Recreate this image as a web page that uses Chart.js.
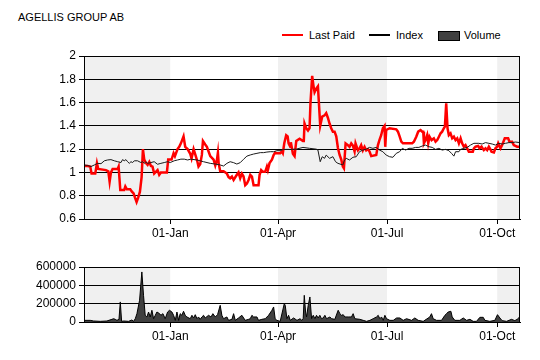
<!DOCTYPE html>
<html>
<head>
<meta charset="utf-8">
<title>AGELLIS GROUP AB</title>
<script src="https://cdn.jsdelivr.net/npm/chart.js@4.4.1/dist/chart.umd.min.js"></script>
<style>
  html, body { margin: 0; padding: 0; background: #fff; }
  #wrap { position: relative; width: 540px; height: 360px; overflow: hidden;
          font-family: 'Liberation Sans', Arial, sans-serif; color: #000; }
  #wrap canvas { position: absolute; left: 0; }
  .title { position: absolute; left: 18px; top: 11px; font-size: 11px; }
  .lg-text { position: absolute; top: 29px; font-size: 11px; }
  .lg-line { position: absolute; height: 2px; top: 34px; width: 21px; }
  .lg-box  { position: absolute; top: 31px; width: 20px; height: 8px; background: #404040; border: 1px solid #000; }
</style>
</head>
<body>
<div id="wrap">
  <div class="title">AGELLIS GROUP AB</div>
  <div class="lg-line" style="left:282px;background:#ff0000"></div>
  <div class="lg-text" style="left:309px">Last Paid</div>
  <div class="lg-line" style="left:369px;background:#000;height:2px"></div>
  <div class="lg-text" style="left:396px">Index</div>
  <div class="lg-box" style="left:438px"></div>
  <div class="lg-text" style="left:464px">Volume</div>
  <canvas id="chart-price" width="540" height="240" style="top:0"></canvas>
  <canvas id="chart-volume" width="540" height="120" style="top:240px"></canvas>
</div>
<script>
(function () {
  // ── Data (x = days relative to 01-Jan) ──────────────────────────────────────
  const X_MIN = -72, X_MAX = 292;
  const tickDays   = [0, 90, 181, 273];
  const tickLabels = ['01-Jan', '01-Apr', '01-Jul', '01-Oct'];
  const shadedBands = [[-72, 0], [90, 181], [273, 292]];
  const priceTicks  = [0.6, 0.8, 1, 1.2, 1.4, 1.6, 1.8, 2];
  const volumeTicks = [0, 200000, 400000, 600000];

  const lastPaid = [
    [-71.8,1.055],[-69,1.055],[-66.8,1.05],[-65.7,0.99],[-62.6,0.99],[-61.2,1.08],[-60.1,1.03],
    [-53.7,1.02],[-51.7,1.01],[-50.6,0.92],[-49.5,1.0],[-48.1,1.03],[-43.9,1.03],[-43.1,1.05],
    [-41.7,0.85],[-38.4,0.85],[-37.5,0.88],[-36.2,0.855],[-33.4,0.855],[-32,0.835],[-30.6,0.82],
    [-29.5,0.785],[-28.1,0.745],[-26.7,0.785],[-25.3,0.835],[-23.9,0.96],[-22.8,1.2],[-21.7,1.11],
    [-20.3,1.08],[-18.9,1.065],[-17.5,1.09],[-16.1,1.055],[-14.8,1.05],[-13.4,0.99],[-12,1.005],
    [-10.6,1.02],[-9.2,0.98],[-7.8,1.0],[-2.8,1.0],[-1.7,1.11],[1.1,1.11],[2.8,1.165],[3.9,1.14],
    [6.1,1.2],[7.5,1.22],[8.9,1.25],[11.1,1.31],[12.5,1.22],[14.5,1.2],[16.7,1.16],[17.8,1.12],
    [19.5,1.2],[21,1.15],[22.5,1.1],[23.6,1.05],[25,1.07],[26.4,1.15],[27.3,1.27],[29.2,1.24],
    [30.6,1.22],[32,1.18],[33.4,1.14],[36.2,1.11],[37.6,1.06],[39,1.11],[39.8,1.17],[40.4,1.08],
    [41.7,1.01],[44.5,1.01],[47.3,0.99],[48.7,0.96],[50,0.95],[51.5,0.965],[52.9,0.935],[55.6,0.98],
    [57,1.0],[58.4,0.95],[59.8,0.99],[61.2,0.965],[62.6,0.89],[64,0.905],[65.4,0.935],[66.8,0.98],
    [68.2,0.965],[69.6,0.89],[73.7,0.89],[74.6,0.98],[75.9,1.02],[77.3,1.005],[79.3,1.005],
    [80.7,1.05],[81.5,1.02],[82.9,1.08],[84.9,1.11],[86.3,1.15],[87.6,1.17],[88.5,1.165],
    [91.8,1.165],[93.2,1.18],[94,1.165],[95.2,1.25],[96.8,1.32],[98,1.31],[98.8,1.25],[100.2,1.22],
    [100.7,1.26],[102.4,1.16],[103.8,1.14],[105.2,1.27],[108,1.29],[110.8,1.27],[111.5,1.27],
    [112.1,1.42],[113.5,1.38],[115,1.36],[116.3,1.38],[117.1,1.6],[118.5,1.83],[119.5,1.75],
    [120.5,1.69],[121.9,1.72],[123.3,1.74],[124.1,1.6],[125.2,1.4],[126.9,1.48],[128.8,1.49],
    [130.2,1.51],[131.6,1.47],[133,1.42],[134.4,1.38],[135.8,1.35],[137.2,1.35],[138.6,1.31],
    [140,1.21],[141.4,1.15],[142.8,1.11],[144.1,1.05],[145,1.035],[146.4,1.25],[148.3,1.235],
    [149.7,1.22],[151.1,1.25],[152.5,1.23],[153.9,1.18],[154.7,1.25],[156.7,1.19],[158,1.205],
    [159.4,1.235],[160.8,1.19],[162.2,1.22],[163.6,1.19],[165,1.2],[166.4,1.18],[167.8,1.14],
    [172,1.15],[173.4,1.235],[174.7,1.28],[176.1,1.32],[177.5,1.38],[178.9,1.4],[179.5,1.22],
    [180.3,1.365],[183.1,1.38],[188.7,1.37],[190.1,1.35],[191.5,1.31],[192.9,1.265],[194.3,1.25],
    [202,1.25],[203.4,1.264],[205.4,1.307],[207,1.35],[209,1.364],[210.4,1.35],[211.2,1.35],
    [211.8,1.25],[213.1,1.278],[214.5,1.321],[215.4,1.25],[216.5,1.307],[218.2,1.278],[220.1,1.293],
    [221.5,1.264],[222.9,1.278],[224.3,1.307],[225.7,1.336],[227,1.35],[228.4,1.379],[229.3,1.393],
    [230.4,1.593],[231.5,1.379],[232.6,1.321],[234,1.336],[235.4,1.293],[236.8,1.307],[238.2,1.278],
    [239.6,1.293],[241,1.25],[242.4,1.293],[243.7,1.25],[245.1,1.221],[246.5,1.235],[247.9,1.207],
    [249.3,1.178],[252.6,1.178],[253.5,1.207],[254.9,1.221],[257.1,1.228],[258.2,1.207],[259.9,1.221],
    [261.8,1.192],[263.2,1.207],[264.6,1.192],[266,1.221],[267.4,1.197],[268.2,1.178],[270.2,1.172],
    [271.5,1.207],[272.9,1.221],[273.8,1.25],[275.7,1.207],[277.1,1.235],[279.3,1.293],[282.1,1.293],
    [283.2,1.264],[285.4,1.264],[286.8,1.235],[289.6,1.221],[292,1.221]
  ];

  const indexVals = [
    [-71.8,1.064],[-69,1.06],[-66.2,1.05],[-63.4,1.064],[-60.6,1.078],[-57.8,1.075],[-55,1.1],
    [-52.3,1.107],[-49.5,1.11],[-46.7,1.1],[-43.9,1.092],[-41.1,1.085],[-39.8,1.11],[-38.4,1.1],
    [-37,1.11],[-35.6,1.092],[-34.2,1.078],[-32.8,1.092],[-31.4,1.085],[-30,1.1],[-27.3,1.1],
    [-24.5,1.085],[-23.1,1.092],[-21.7,1.078],[-20.3,1.092],[-18.9,1.078],[-16.1,1.085],
    [-13.4,1.092],[-10.6,1.07],[-7.8,1.078],[-5,1.085],[-2.2,1.092],[0,1.085],[3.3,1.1],
    [6.1,1.107],[8.9,1.114],[11.7,1.114],[14.5,1.107],[17.2,1.114],[22.3,1.107],[27.8,1.092],
    [33.4,1.078],[37.6,1.072],[41.7,1.064],[44.5,1.055],[47.3,1.078],[50,1.092],[52.9,1.084],
    [55.6,1.072],[58.4,1.084],[61.2,1.113],[64,1.14],[66.8,1.15],[69.6,1.158],[72.4,1.164],
    [75.2,1.17],[77.9,1.17],[80.7,1.175],[83.5,1.178],[86.3,1.178],[89,1.187],[91.8,1.187],
    [94.6,1.198],[100.2,1.198],[105.2,1.2],[110.8,1.215],[116.3,1.207],[121.9,1.2],[123.3,1.192],
    [125.2,1.092],[126.9,1.135],[128.8,1.121],[130.2,1.149],[133,1.121],[135.8,1.135],[138,1.092],
    [140,1.078],[144.1,1.064],[145.5,1.107],[146.9,1.121],[149.7,1.107],[152.5,1.13],[155.3,1.135],
    [158,1.178],[160.8,1.192],[163.6,1.2],[166.4,1.215],[169.2,1.207],[172,1.215],[174.7,1.192],
    [177.5,1.178],[180.3,1.149],[183.1,1.135],[185.9,1.13],[188.7,1.164],[191.5,1.178],[193.8,1.207],
    [196.5,1.192],[199.3,1.207],[202,1.207],[204.9,1.215],[207.6,1.215],[210.4,1.227],[213.1,1.235],
    [215.9,1.221],[218.7,1.215],[221.5,1.198],[224.3,1.207],[227,1.192],[229.8,1.198],[232.6,1.187],
    [234.8,1.164],[236.8,1.14],[238.2,1.178],[241,1.178],[242.4,1.198],[245.1,1.207],[247.9,1.215],
    [250.7,1.235],[253.5,1.25],[257.6,1.25],[260.4,1.244],[263.2,1.256],[266,1.25],[268.8,1.244],
    [271.5,1.235],[274.3,1.25],[277.1,1.244],[279.9,1.25],[282.7,1.256],[285.4,1.256],[288.2,1.261],
    [292,1.256]
  ];

  const volume = [
    [-71.8,18000],[-66.8,18000],[-64,11000],[-58.4,7000],[-52.9,11000],[-48.7,29000],[-47.3,36000],
    [-45.9,29000],[-44.5,18000],[-42.8,29000],[-41.7,219000],[-40.6,7000],[-38.9,11000],[-34.8,7000],
    [-32,22000],[-30.6,7000],[-29.2,36000],[-27.8,91000],[-25.6,237000],[-23.7,546000],[-22.3,291000],
    [-20.9,73000],[-19.5,55000],[-18.1,109000],[-16.7,55000],[-15.3,128000],[-13.9,36000],
    [-12.5,73000],[-11.1,109000],[-8.9,91000],[-7.8,73000],[-6.1,91000],[-4.2,36000],[-2.2,109000],
    [-0.6,128000],[1.4,109000],[2.8,73000],[4.2,18000],[5.6,109000],[7,18000],[8.3,91000],
    [9.7,73000],[11.1,117000],[12.5,73000],[13.9,55000],[16.7,36000],[18.1,73000],[19.5,44000],
    [20.9,80000],[22.3,36000],[23.6,55000],[25,29000],[26.4,55000],[27.8,73000],[29.2,44000],
    [32,73000],[34,55000],[35.6,91000],[37.6,55000],[39.5,80000],[41.7,182000],[43.1,73000],
    [44.5,36000],[47.3,55000],[48.7,18000],[51.5,29000],[52.9,91000],[54.3,18000],[57,44000],
    [59.8,73000],[62.6,18000],[65.4,29000],[66.8,36000],[68.2,73000],[69.6,55000],[72.4,55000],
    [73.7,18000],[76.5,29000],[79.3,36000],[82.1,73000],[84.9,128000],[86.3,164000],[87.6,36000],
    [89,18000],[91.8,7000],[95.2,200000],[96,182000],[97.4,36000],[98.8,73000],[100.2,18000],
    [103,44000],[105.8,18000],[108.5,36000],[109.6,18000],[111,36000],[111.9,291000],[113,109000],
    [113.8,55000],[115.2,182000],[116.6,273000],[118,36000],[119.4,73000],[120.8,36000],
    [122.1,73000],[123.5,44000],[124.9,73000],[126.3,36000],[127.7,44000],[129.1,73000],
    [130.5,36000],[133.3,55000],[134.7,36000],[137.4,29000],[140.2,128000],[141.6,91000],
    [143,73000],[144.4,80000],[145.8,55000],[148.6,55000],[151.3,55000],[152.7,91000],[154.1,36000],
    [158.3,29000],[161.1,18000],[163.9,7000],[166.7,18000],[169.4,36000],[172.2,55000],[173.6,73000],
    [175,36000],[176.4,55000],[177.8,18000],[179.2,73000],[180.6,36000],[183.4,18000],[186.2,18000],
    [189,44000],[191.7,44000],[194.5,18000],[197.3,36000],[201.5,18000],[204.2,44000],[207,18000],
    [211.2,7000],[216.7,55000],[218.1,91000],[219.5,36000],[222.3,18000],[226.5,18000],[229.3,73000],
    [230.7,91000],[232,109000],[234.3,117000],[235.4,55000],[237.6,18000],[241.8,18000],[244.6,44000],
    [247.4,18000],[250.2,29000],[252.9,7000],[255.7,7000],[258.5,51000],[261.3,51000],[262.7,18000],
    [266.8,7000],[271,18000],[273.2,80000],[275.2,44000],[277.1,15000],[280.8,7000],[284.9,29000],
    [287.7,15000],[290.5,36000],[292,66000]
  ];

  // ── Shared helpers ─────────────────────────────────────────────────────────
  const FONT = { family: "'Liberation Sans', Arial, sans-serif", size: 12 };
  const toXY = arr => arr.map(([x, y]) => ({ x, y }));

  // Alternating quarter shading, behind grid lines
  const quarterBands = {
    id: 'quarterBands',
    beforeDraw(chart) {
      const { ctx, chartArea: a, scales: { x } } = chart;
      ctx.save();
      ctx.fillStyle = '#f0f0f0';
      shadedBands.forEach(([d0, d1]) => {
        const p0 = Math.max(a.left, x.getPixelForValue(d0));
        const p1 = Math.min(a.right, x.getPixelForValue(d1));
        ctx.fillRect(p0, a.top, p1 - p0, a.bottom - a.top);
      });
      ctx.restore();
    }
  };

  // Black frame round the plot area
  const plotFrame = {
    id: 'plotFrame',
    afterDraw(chart) {
      const { ctx, chartArea: a } = chart;
      ctx.save();
      ctx.strokeStyle = '#000';
      ctx.lineWidth = 1;
      ctx.strokeRect(Math.round(a.left) + 0.5, Math.round(a.top) + 0.5,
                     Math.round(a.right - a.left) - 1, Math.round(a.bottom - a.top));
      ctx.restore();
    }
  };

  function xScale(height) {
    return {
      type: 'linear',
      min: X_MIN,
      max: X_MAX,
      afterFit: s => { s.height = height; },
      afterBuildTicks: s => { s.ticks = tickDays.map(v => ({ value: v })); },
      ticks: {
        color: '#000', font: FONT, padding: 2, maxRotation: 0, autoSkip: false,
        callback: v => tickLabels[tickDays.indexOf(v)] ?? ''
      },
      grid: { drawOnChartArea: false, color: '#000', tickLength: 5 },
      border: { color: '#000' }
    };
  }

  function yScale(min, max, ticks) {
    return {
      min, max,
      afterFit: s => { s.width = 84; },
      afterBuildTicks: s => { s.ticks = ticks.map(v => ({ value: v })); },
      ticks: { color: '#000', font: FONT, padding: 3, callback: v => String(v) },
      grid: { color: '#000', tickLength: 5 },
      border: { color: '#000' }
    };
  }

  const baseOptions = {
    responsive: false,
    animation: false,
    devicePixelRatio: 1,
    plugins: { legend: { display: false }, tooltip: { enabled: false } },
    elements: { point: { radius: 0 }, line: { tension: 0 } }
  };

  // ── Price chart ────────────────────────────────────────────────────────────
  new Chart(document.getElementById('chart-price').getContext('2d'), {
    type: 'line',
    data: {
      datasets: [
        { label: 'Index', data: toXY(indexVals), borderColor: '#1a1a1a', borderWidth: 1, order: 0 },
        { label: 'Last Paid', data: toXY(lastPaid), borderColor: '#ff0000', borderWidth: 2.5, order: 1 }
      ]
    },
    options: {
      ...baseOptions,
      layout: { autoPadding: false, padding: { top: 56, right: 20, bottom: 0, left: 0 } },
      scales: { x: xScale(21), y: yScale(0.6, 2, priceTicks) }
    },
    plugins: [quarterBands, plotFrame]
  });

  // ── Volume chart ───────────────────────────────────────────────────────────
  new Chart(document.getElementById('chart-volume').getContext('2d'), {
    type: 'line',
    data: {
      datasets: [
        { label: 'Volume', data: toXY(volume), borderColor: '#000', borderWidth: 1,
          backgroundColor: '#404040', fill: 'origin' }
      ]
    },
    options: {
      ...baseOptions,
      layout: { autoPadding: false, padding: { top: 27, right: 20, bottom: 0, left: 0 } },
      scales: { x: xScale(38), y: yScale(0, 600000, volumeTicks) }
    },
    plugins: [quarterBands, plotFrame]
  });
})();
</script>
</body>
</html>
